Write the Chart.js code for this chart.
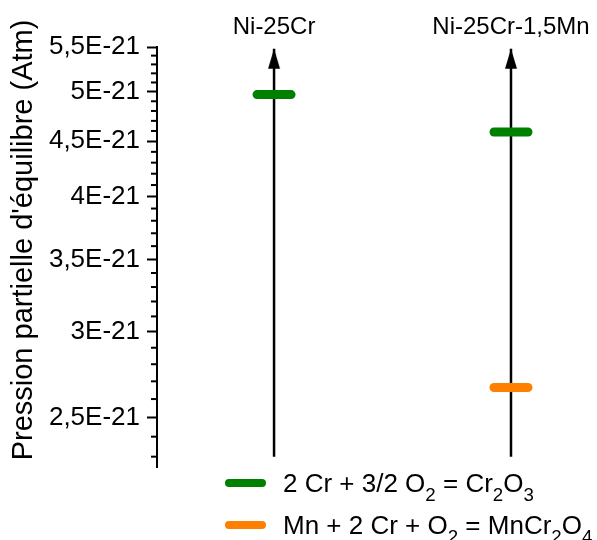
<!DOCTYPE html>
<html>
<head>
<meta charset="utf-8">
<script src="https://cdn.jsdelivr.net/npm/chart.js@4/dist/chart.umd.min.js"></script>
<style>
  html, body { margin: 0; padding: 0; background: #fff; }
  #wrap { position: relative; width: 597px; height: 540px; overflow: hidden; }
  #legend { position: absolute; left: 225px; top: 462px; font-family: 'Liberation Sans', Arial, sans-serif; font-size: 26px; color: #000; white-space: nowrap; }
  #legend .row { display: flex; align-items: center; height: 42px; }
  #legend .swatch { display: inline-block; flex: none; width: 41px; height: 8px; border-radius: 4px; margin-right: 17px; }
  #legend sub { font-size: 0.72em; vertical-align: baseline; position: relative; top: 0.5em; }
</style>
</head>
<body>
<div id="wrap">
  <canvas id="c" width="597" height="540"></canvas>
  <div id="legend"></div>
</div>
<script>
// ---- data ----
const categories = ['Ni-25Cr', 'Ni-25Cr-1,5Mn'];
const categoryX = [1, 2];
const cr2o3Values = [4.97e-21, 4.59e-21];
const mncr2o4Values = [null, 2.665e-21];
const arrowStart = 2.3e-21;
const arrowEnd = 5.48e-21;
const yMin = 2.25e-21;
const yMax = 5.5e-21;
const yTickValues = [2.5e-21, 3e-21, 3.5e-21, 4e-21, 4.5e-21, 5e-21, 5.5e-21];
const yTickLabels = ['2,5E-21', '3E-21', '3,5E-21', '4E-21', '4,5E-21', '5E-21', '5,5E-21'];
const yMinorTicks = [2.3e-21, 2.4e-21, 2.6e-21, 2.7e-21, 2.8e-21, 2.9e-21,
  3.1e-21, 3.2e-21, 3.3e-21, 3.4e-21, 3.6e-21, 3.7e-21, 3.8e-21, 3.9e-21,
  4.1e-21, 4.2e-21, 4.3e-21, 4.4e-21, 4.6e-21, 4.7e-21, 4.8e-21, 4.9e-21,
  5.1e-21, 5.2e-21, 5.3e-21, 5.4e-21];
const seriesLabels = ['2 Cr + 3/2 O₂ = Cr₂O₃', 'Mn + 2 Cr + O₂ = MnCr₂O₄'];
const seriesColors = ['#008000', '#FF8000'];
const yTitle = "Pression partielle d'équilibre (Atm)";

const FONT = "'Liberation Sans', Arial, sans-serif";

function toPoints(values) {
  const pts = [];
  values.forEach((v, i) => { if (v !== null) pts.push({ x: categoryX[i], y: v }); });
  return pts;
}

// arrowhead image (tip at the image centre)
const arrowImg = document.createElement('canvas');
arrowImg.width = 14; arrowImg.height = 42;
(function () {
  const c = arrowImg.getContext('2d');
  c.fillStyle = '#000';
  c.beginPath();
  c.moveTo(7, 21); c.lineTo(1, 41); c.lineTo(13, 41); c.closePath();
  c.fill();
})();

function markDataset(label, values, color) {
  return {
    label, data: toPoints(values), legendItem: true,
    pointStyle: 'line', pointRadius: 17, pointHoverRadius: 17,
    pointBorderWidth: 9, pointHoverBorderWidth: 9,
    pointBorderColor: color, pointBackgroundColor: color,
    borderColor: color, backgroundColor: color, showLine: false
  };
}
function arrowDataset(x) {
  return {
    label: 'arrow', data: [{ x, y: arrowStart }, { x, y: arrowEnd }],
    showLine: true, borderColor: '#000', borderWidth: 2.5,
    pointStyle: arrowImg,
    pointRadius: ctx => ctx.dataIndex === 1 ? 10 : 0,
    pointHoverRadius: ctx => ctx.dataIndex === 1 ? 10 : 0,
    pointBorderWidth: 0
  };
}

const roundCaps = {
  id: 'roundCaps',
  beforeDatasetsDraw(chart) { chart.ctx.save(); chart.ctx.lineCap = 'round'; },
  afterDatasetsDraw(chart) { chart.ctx.restore(); }
};
const minorTicks = {
  id: 'minorTicks',
  afterDraw(chart) {
    const s = chart.scales.y, ctx = chart.ctx;
    ctx.save();
    ctx.strokeStyle = '#000'; ctx.lineWidth = 2;
    yMinorTicks.forEach(v => {
      const y = s.getPixelForValue(v);
      ctx.beginPath(); ctx.moveTo(s.right - 6, y); ctx.lineTo(s.right, y); ctx.stroke();
    });
    ctx.restore();
  }
};
const yAxisTitle = {
  id: 'yAxisTitle',
  afterDraw(chart) {
    const ctx = chart.ctx;
    ctx.save();
    ctx.translate(24, 240);
    ctx.rotate(-Math.PI / 2);
    ctx.font = '29px ' + FONT;
    ctx.fillStyle = '#000';
    ctx.textAlign = 'center';
    ctx.textBaseline = 'middle';
    ctx.fillText(yTitle, 0, 0);
    ctx.restore();
  }
};

const chart = new Chart(document.getElementById('c'), {
  type: 'scatter',
  data: {
    datasets: [
      markDataset(seriesLabels[0], cr2o3Values, seriesColors[0]),
      markDataset(seriesLabels[1], mncr2o4Values, seriesColors[1]),
      arrowDataset(categoryX[0]),
      arrowDataset(categoryX[1])
    ]
  },
  options: {
    responsive: false, animation: false, events: [],
    layout: { autoPadding: false, padding: { left: 0, right: 0, top: 0, bottom: 73 } },
    plugins: { legend: { display: false }, tooltip: { enabled: false } },
    scales: {
      x: {
        type: 'linear', position: 'top', min: 0.506, max: 2.363,
        grid: { display: false, drawTicks: false }, border: { display: false },
        afterBuildTicks: s => { s.ticks = categoryX.map(v => ({ value: v })); },
        afterFit: s => { s.height = 47; },
        ticks: {
          padding: 5, color: '#000', autoSkip: false, maxRotation: 0,
          font: { family: FONT, size: 24 },
          callback: (v, i) => categories[i]
        }
      },
      y: {
        type: 'logarithmic', position: 'left', min: yMin, max: yMax,
        afterBuildTicks: s => { s.ticks = yTickValues.map(v => ({ value: v })); },
        afterFit: s => { s.width = 157; },
        border: { display: true, color: '#000', width: 2 },
        grid: { display: true, drawOnChartArea: false, drawTicks: true, tickLength: 10, tickColor: '#000', tickWidth: 2 },
        ticks: {
          padding: 7, color: '#000', autoSkip: false,
          font: { family: FONT, size: 26 },
          callback: (v, i) => yTickLabels[i]
        },
        title: { display: false, text: yTitle }
      }
    }
  },
  plugins: [roundCaps, minorTicks, yAxisTitle]
});

// HTML legend built from the chart's datasets
const legendEl = document.getElementById('legend');
chart.data.datasets.filter(d => d.legendItem).forEach(d => {
  const row = document.createElement('div');
  row.className = 'row';
  const sw = document.createElement('span');
  sw.className = 'swatch';
  sw.style.background = d.pointBorderColor;
  const tx = document.createElement('span');
  tx.innerHTML = d.label.replace(/[₀-₉]/g, ch => '<sub>' + (ch.charCodeAt(0) - 0x2080) + '</sub>');
  row.appendChild(sw); row.appendChild(tx);
  legendEl.appendChild(row);
});
</script>
</body>
</html>
